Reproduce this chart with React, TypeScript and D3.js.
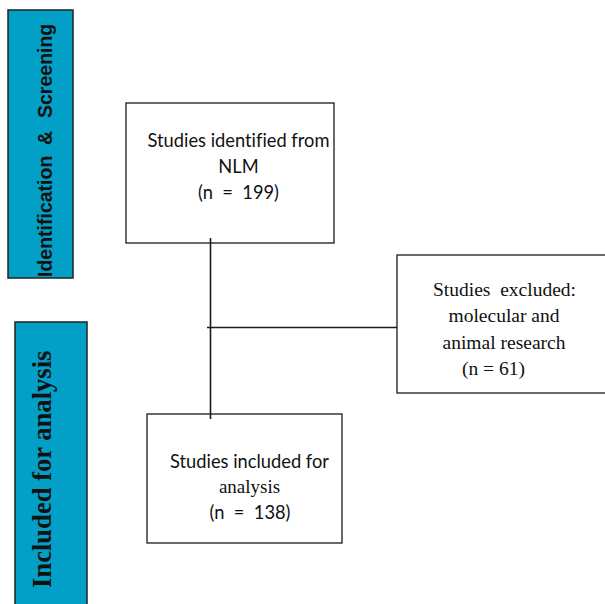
import React from "react";
import * as d3 from "d3";

const stageLabels = ["Identification  &  Screening", "Included for analysis"];
const idParts = ["Identification", "&", "Screening"];
const counts = [199, 61, 138];
const identifiedLines = ["Studies identified from", "NLM"];
const excludedLines = ["Studies  excluded:", "molecular and", "animal research"];
const includedLines = ["Studies included for", "analysis"];

const W = 605;
const H = 604;

export default function App() {
  const sans = "Lato, 'Open Sans', sans-serif";
  const serif = "'Liberation Serif', 'Times New Roman', serif";
  const line = d3.line<[number, number]>();
  const stroke = "#1a1a1a";

  // Box geometry
  const b1 = { x: 126, y: 103, w: 208, h: 140 };
  const b2 = { x: 397, y: 255, w: 215, h: 138 };
  const b3 = { x: 147, y: 414, w: 195, h: 129 };
  const vx = 210.5;
  const hy = 327.5;

  return (
    <svg
      width={W}
      height={H}
      style={{ position: "absolute", left: 0, top: 0, background: "#fff", fontVariantLigatures: "none" }}
    >
      {/* Stage side bars */}
      <rect x={8} y={10} width={65} height={268} fill="#02a0c7" stroke="#222" strokeWidth={1.5} />
      <rect x={15} y={322} width={72} height={300} fill="#02a0c7" stroke="#222" strokeWidth={1.5} />
      <g fontFamily="'Liberation Sans', Arial, sans-serif" fontWeight="bold" fontSize={19.5} fill="#111">
        <text transform={`translate(52,277) rotate(-90)`} textAnchor="start">{idParts[0]}</text>
        <text transform={`translate(52,138) rotate(-90)`} textAnchor="middle">{idParts[1]}</text>
        <text transform={`translate(52,118) rotate(-90)`} textAnchor="start">{idParts[2]}</text>
      </g>
      <text
        transform={`translate(51,588) rotate(-90)`}
        fontFamily={serif}
        fontWeight="bold"
        fontSize={26.6}
        fill="#111"
      >
        {stageLabels[1]}
      </text>

      {/* Connectors */}
      <path d={line([[vx, 238], [vx, 419]]) || ""} stroke={stroke} strokeWidth={1.6} fill="none" />
      <path d={line([[207, hy], [b2.x, hy]]) || ""} stroke={stroke} strokeWidth={1.6} fill="none" />

      {/* Boxes */}
      {[b1, b2, b3].map((b, i) => (
        <rect key={i} x={b.x} y={b.y} width={b.w} height={b.h} fill="#fff" stroke={stroke} strokeWidth={1.3} />
      ))}
      {/* connector ends inside boxes */}
      <path d={line([[vx, 238], [vx, 243]]) || ""} stroke={stroke} strokeWidth={1.6} />
      <path d={line([[vx, 414], [vx, 419]]) || ""} stroke={stroke} strokeWidth={1.6} />

      {/* Box 1 text */}
      <g fontFamily={sans} fontSize={18.3} fill="#111" textAnchor="middle">
        <text x={238.5} y={147}>{identifiedLines[0]}</text>
        <text x={238.5} y={173}>{identifiedLines[1]}</text>
        <text x={238.5} y={199} style={{ whiteSpace: "pre" }}>{`(n  =  ${counts[0]})`}</text>
      </g>

      {/* Box 2 text */}
      <g fontFamily={serif} fontSize={19.5} fill="#111" textAnchor="middle">
        <text x={504.5} y={296} style={{ whiteSpace: "pre" }}>{excludedLines[0]}</text>
        <text x={504} y={322}>{excludedLines[1]}</text>
        <text x={504} y={349}>{excludedLines[2]}</text>
        <text x={493.5} y={375}>{`(n = ${counts[1]})`}</text>
      </g>

      {/* Box 3 text */}
      <g fill="#111" textAnchor="middle">
        <text x={249.5} y={468} fontFamily={sans} fontSize={18.3}>{includedLines[0]}</text>
        <text x={249.5} y={493} fontFamily={serif} fontSize={19}>{includedLines[1]}</text>
        <text x={250} y={519} fontFamily={sans} fontSize={18.3} style={{ whiteSpace: "pre" }}>{`(n  =  ${counts[2]})`}</text>
      </g>
    </svg>
  );
}
